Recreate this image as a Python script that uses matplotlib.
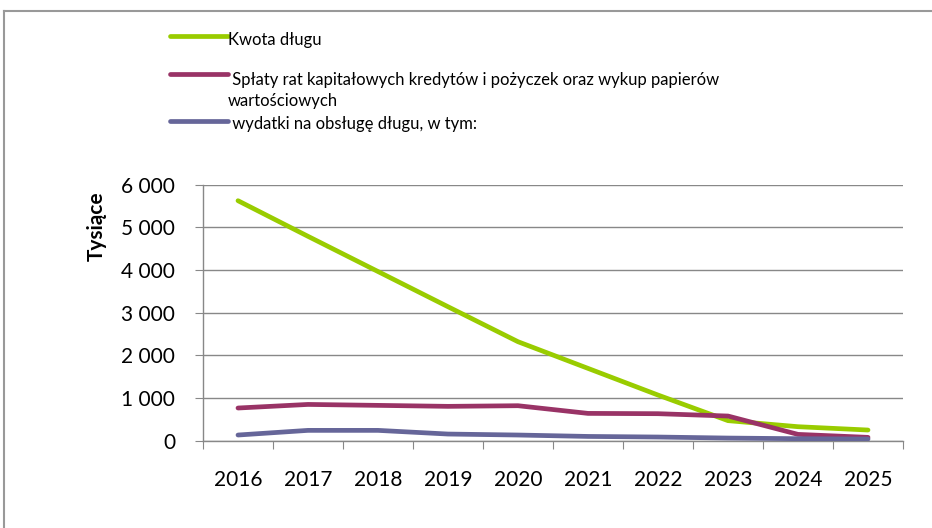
import matplotlib
matplotlib.use('Agg')
from matplotlib import pyplot as plt
from matplotlib.lines import Line2D
from matplotlib.ticker import FuncFormatter, FixedLocator

plt.rcParams['font.family'] = ['Lato', 'DejaVu Sans']

# Data (thousands PLN)
years = ['2016', '2017', '2018', '2019', '2020', '2021', '2022', '2023', '2024', '2025']
kwota_dlugu = [5625, 4790, 3965, 3140, 2320, 1695, 1070, 470, 328, 250]
splaty_rat = [766, 850, 828, 805, 820, 640, 633, 578, 148, 78]
wydatki_obsluga = [133, 242, 242, 156, 133, 100, 86, 62, 47, 39]

series_labels = ['Kwota długu',
                 ' Spłaty rat kapitałowych kredytów i pożyczek oraz wykup papierów\nwartościowych',
                 ' wydatki na obsługę długu, w tym:']
colors = ['#99cc00', '#993366', '#666699']

fig = plt.figure(figsize=(9.32, 5.28), dpi=100)
ax = fig.add_axes([203 / 932, 1 - 440.7 / 528, 700 / 932, 256 / 528])

x = list(range(len(years)))
for vals, c in zip([kwota_dlugu, splaty_rat, wydatki_obsluga], colors):
    ax.plot(x, vals, color=c, lw=3.4, solid_capstyle='round', solid_joinstyle='round', zorder=3)

ax.set_xlim(-0.5, len(years) - 0.5)
ax.set_ylim(0, 6000)
ax.set_yticks(range(0, 6001, 1000))
ax.yaxis.set_major_formatter(FuncFormatter(lambda v, p: f'{int(v):,}'.replace(',', ' ')))
ax.grid(axis='y', color='#888888', lw=1.0, zorder=0)

# category boundaries as major ticks, labels on minor ticks
ax.xaxis.set_major_locator(FixedLocator([i - 0.5 for i in range(len(years) + 1)]))
ax.xaxis.set_major_formatter(FuncFormatter(lambda v, p: ''))
ax.xaxis.set_minor_locator(FixedLocator(x))
ax.set_xticklabels(years, minor=True)
ax.tick_params(axis='x', which='major', direction='out', length=6, color='#888888')
ax.tick_params(axis='x', which='minor', length=0, pad=21, labelsize=15)
ax.tick_params(axis='y', direction='out', length=6, color='#888888', pad=14, labelsize=15)

for s in ['top', 'right']:
    ax.spines[s].set_visible(False)
for s in ['left', 'bottom']:
    ax.spines[s].set_color('#888888')
    ax.spines[s].set_linewidth(1.0)

ax.set_ylabel('Tysiące', fontsize=15, fontweight='bold')
ax.yaxis.set_label_coords(-0.137, 0.838)

# legend drawn by hand
leg_y = [36, 74, 121]
text_y = [40, 80, 124]
for ly, ty, lab, c in zip(leg_y, text_y, series_labels, colors):
    fig.add_artist(Line2D([170 / 932, 228 / 932], [1 - ly / 528, 1 - ly / 528],
                          color=c, lw=3.4, solid_capstyle='round'))
    lines = lab.split('\n')
    for k, part in enumerate(lines):
        fig.text(228 / 932, 1 - (ty + 21 * k) / 528, part, fontsize=12, va='center')

# outer frame (cropped: only top and left visible)
fig.add_artist(Line2D([3.5 / 932, 3.5 / 932], [0, 1 - 11 / 528], color='#999999', lw=1.5))
fig.add_artist(Line2D([3.5 / 932, 1], [1 - 11 / 528, 1 - 11 / 528], color='#999999', lw=1.5))

fig.savefig('out.png', dpi=100)
